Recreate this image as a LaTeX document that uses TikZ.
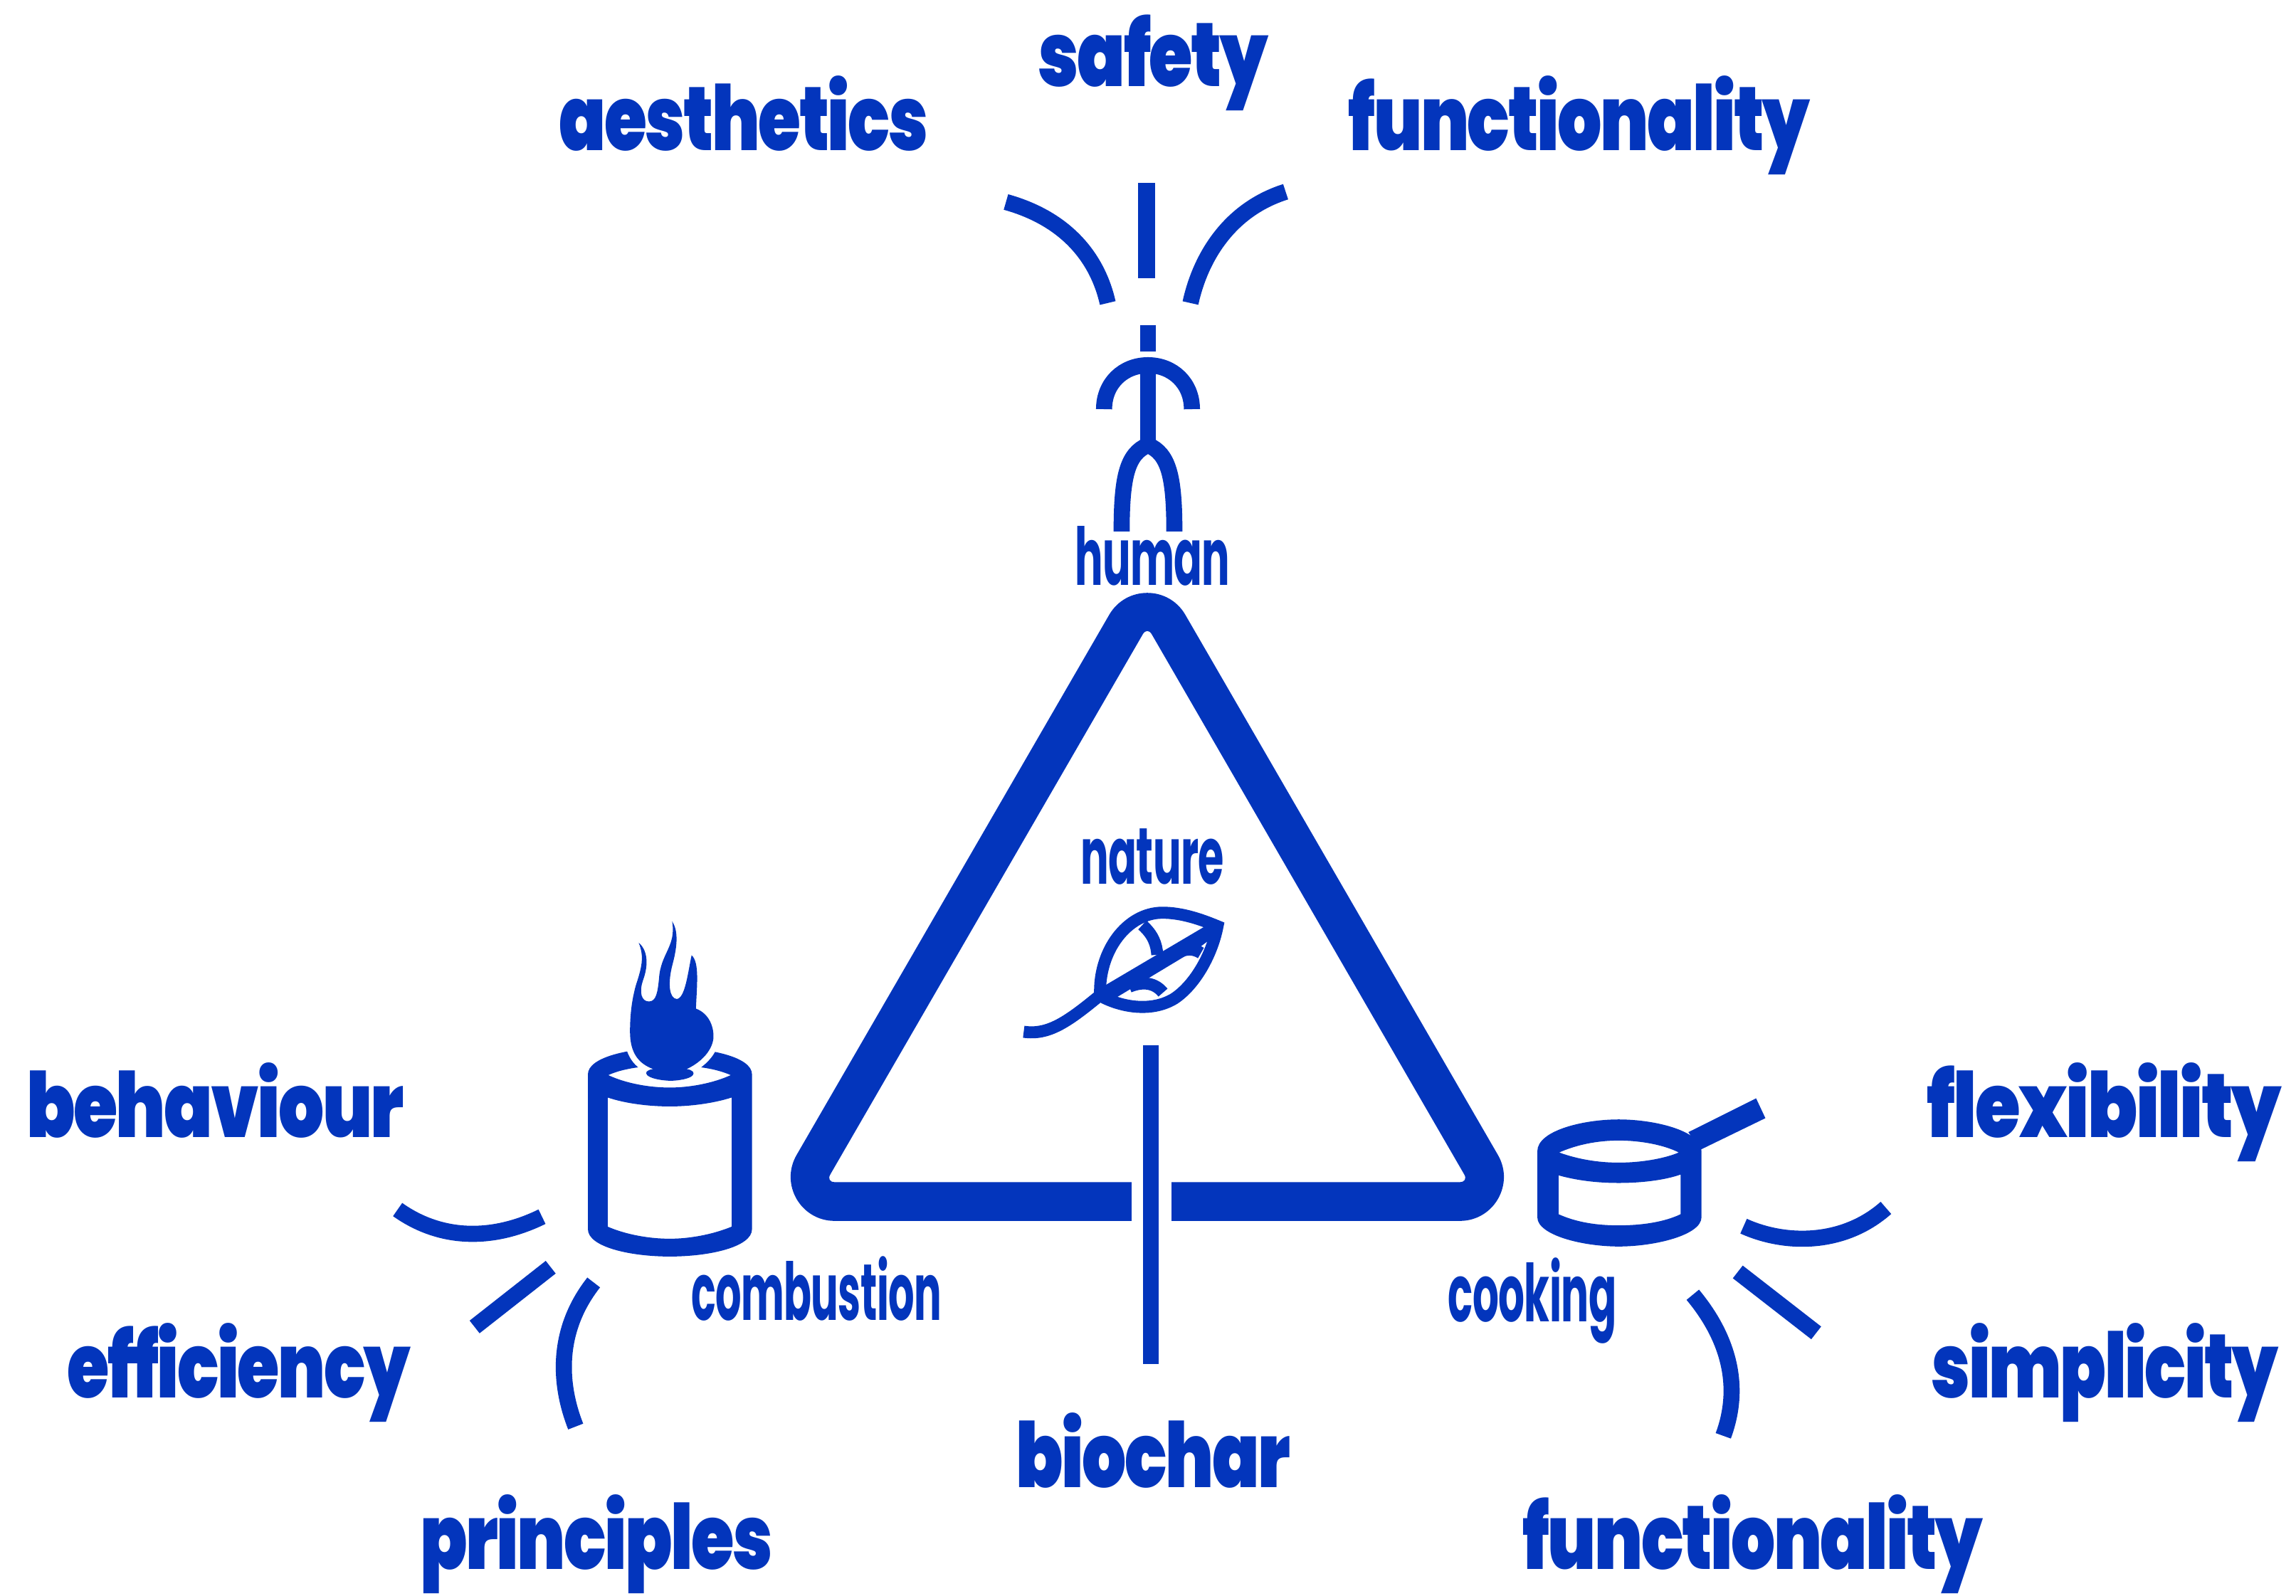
\documentclass[tikz,border=0pt]{standalone}
\usepackage{fontspec}
\usepackage{graphicx}
\newfontfamily\heavyfont{Poppins}[UprightFont=* Black,LetterSpace=-2.5]
\newfontfamily\lightfont{Poppins}[UprightFont=* Bold,LetterSpace=-1]
\newdimen\uu \uu=0.01cm
\newcommand\hv[2]{\resizebox{#1\uu}{\height}{\fontsize{17.5}{20}\heavyfont #2}}
\newcommand\lt[2]{\resizebox{#1\uu}{\height}{\fontsize{15.5}{18}\lightfont #2}}
\definecolor{bl}{HTML}{0335BC}
\tikzset{
  word/.style={anchor=base west,inner sep=0pt,outer sep=0pt,text=bl},
  band/.style={draw=bl,line width=11\uu,line cap=butt},
  fig/.style={draw=bl,line width=11.5\uu,line cap=butt},
  thin stroke/.style={draw=bl,line width=8.2\uu,line cap=butt},
  cylz/.style={shift={(252.7,617.3)},x=0.1984*0.01cm,y=-0.243*0.01cm},
  potz/.style={shift={(1001.3,729.1)},x=0.1984*0.01cm,y=-0.1736*0.01cm},
  leafz/.style={shift={(680.5,559)},x=0.162*0.01cm,y=-0.162*0.01cm},
}
\begin{document}
\begin{tikzpicture}[x=0.01cm,y=-0.01cm]
\useasboundingbox (0,0) rectangle (1568,1090.2);
% big triangle
\fill[bl,even odd rule]
  (570,834) -- (997,834) .. controls (1020.1,834) and (1034.55,809) .. (1023,789)
  -- (809.5,420) .. controls (797.95,400) and (769.05,400) .. (757.5,420)
  -- (544,789) .. controls (532.45,809) and (546.9,834) .. (570,834) -- cycle
  [rounded corners=6\uu] (783.5,428) -- (1003,807.5) -- (564,807.5) -- cycle;
\fill[white] (773,800) rectangle (800,840);
\draw[draw=bl,line width=10.5\uu] (786,714) -- (786,932);
% human
\draw[fig] (783,125) -- (783,190);
\draw[band] (687,138) .. controls (730,150) and (750,178) .. (756.5,207);
\draw[band] (878,131) .. controls (840,143) and (820,175) .. (813,207);
\draw[fig,line width=11\uu] (784,222) -- (784,240);
\draw[fig,line width=11\uu] (754,279.5) .. controls (754,262) and (767,249.5) .. (784,249.5) .. controls (801,249.5) and (814,262) .. (814,279.5);
\draw[fig,line width=11\uu] (784,249.5) -- (784,306);
\draw[fig,line width=11\uu] (766,363) .. controls (766,325) and (770,310) .. (784,304) .. controls (798,310) and (802,325) .. (802,363);
% leaf
\begin{scope}[leafz]
\draw[thin stroke] (437,745) .. controls (430,560) and (550,398) .. (700,398) .. controls (780,398) and (860,425) .. (932,455) .. controls (910,570) and (840,700) .. (750,760) .. controls (660,815) and (540,800) .. (450,755);
\draw[thin stroke] (115,900) .. controls (220,915) and (300,860) .. (450,735);
\fill[bl] (440,715) -- (880,455) -- (955,440) -- (895,515) -- (855,545) -- (490,765) -- cycle;
\draw[thin stroke] (615,450) .. controls (660,490) and (675,530) .. (678,575);
\draw[thin stroke] (560,710) .. controls (620,685) and (670,695) .. (702,735);
\draw[thin stroke] (770,565) .. controls (800,548) and (835,550) .. (862,568);
\end{scope}
% cylinder
\begin{scope}[cylz]
\fill[bl,even odd rule]
  (750,480) .. controls (750,430) and (900,405) .. (1032,405) .. controls (1165,405) and (1315,430) .. (1315,480) -- (1315,915) .. controls (1315,965) and (1170,992) .. (1032,992) .. controls (895,992) and (750,965) .. (750,915) -- cycle
  (820,482) .. controls (880,460) and (960,455) .. (1032,455) .. controls (1105,455) and (1180,460) .. (1242,482) .. controls (1180,505) and (1100,517) .. (1032,517) .. controls (960,517) and (880,505) .. (820,482) -- cycle
  (818,545) .. controls (880,562) and (960,570) .. (1032,570) .. controls (1100,570) and (1180,562) .. (1245,545) -- (1245,908) .. controls (1180,930) and (1100,942) .. (1032,942) .. controls (960,942) and (880,930) .. (818,908) -- cycle;
\def\flame{(895,360) .. controls (895,300) and (905,260) .. (915,230) .. controls (935,180) and (945,150) .. (925,110) .. controls (955,130) and (960,170) .. (940,215) .. controls (925,250) and (935,275) .. (960,275) .. controls (985,275) and (990,250) .. (995,210) .. controls (1000,140) and (1055,120) .. (1040,50) .. controls (1065,80) and (1055,130) .. (1040,175) .. controls (1025,225) and (1030,265) .. (1055,268) .. controls (1085,268) and (1095,190) .. (1107,145) .. controls (1135,165) and (1125,230) .. (1122,295) .. controls (1170,310) and (1185,350) .. (1182,380) .. controls (1175,420) and (1130,450) .. (1090,465) .. controls (1130,470) and (1125,495) .. (1035,498) .. controls (945,495) and (930,470) .. (975,465) .. controls (925,450) and (895,420) .. (895,360) -- cycle}
\draw[white,line width=8\uu] \flame;
\fill[bl] \flame;
\draw[band] (95,860) .. controls (250,950) and (430,945) .. (592,880);
\draw[band] (360,1190) -- (622,1022);
\draw[band] (770,1065) .. controls (640,1200) and (650,1350) .. (708,1470);
\end{scope}
% pot
\begin{scope}[potz]
\fill[bl,even odd rule]
  (245,330) .. controls (245,250) and (400,205) .. (525,205) .. controls (650,205) and (810,250) .. (810,330) -- (810,590) .. controls (810,660) and (650,705) .. (525,705) .. controls (400,705) and (245,660) .. (245,590) -- cycle
  (320,335) .. controls (380,305) and (450,288) .. (525,288) .. controls (600,288) and (680,305) .. (732,335) .. controls (680,360) and (600,375) .. (525,375) .. controls (450,375) and (380,360) .. (320,335) -- cycle
  (318,425) .. controls (380,445) and (450,455) .. (525,455) .. controls (600,455) and (680,445) .. (738,422) -- (738,578) .. controls (680,610) and (600,622) .. (525,622) .. controls (450,622) and (380,610) .. (318,578) -- cycle;
\fill[bl] (765,255) -- (998,122) -- (1030,200) -- (805,325) -- cycle;
\draw[band] (955,625) .. controls (1100,700) and (1300,700) .. (1445,553);
\draw[band] (935,805) -- (1205,1045);
\draw[band] (780,895) .. controls (900,1060) and (950,1250) .. (885,1450);
\end{scope}
% small labels
\node[word] (human) at (734,400) {\lt{106}{human}};
\node[word] (nature) at (738,604) {\lt{98}{nature}};
\node[word] (combustion) at (472,902) {\lt{171}{combustion}};
\node[word] (cooking) at (989,903) {\lt{115}{cooking}};
% heavy labels
\node[word] (safety) at (709,59) {\hv{157}{safety}};
\node[word] (aesthetics) at (382,103) {\hv{252}{aesthetics}};
\node[word] (functop) at (921,103) {\hv{315}{functionality}};
\node[word] (behaviour) at (18,777) {\hv{258}{behaviour}};
\node[word] (efficiency) at (46,955) {\hv{234}{efficiency}};
\node[word] (principles) at (287,1072) {\hv{241}{principles}};
\node[word] (biochar) at (694,1016) {\hv{187}{biochar}};
\node[word] (flexibility) at (1316,777) {\hv{242}{flexibility}};
\node[word] (simplicity) at (1319,955) {\hv{237}{simplicity}};
\node[word] (funcbot) at (1040,1072) {\hv{314}{functionality}};
\end{tikzpicture}
\end{document}
